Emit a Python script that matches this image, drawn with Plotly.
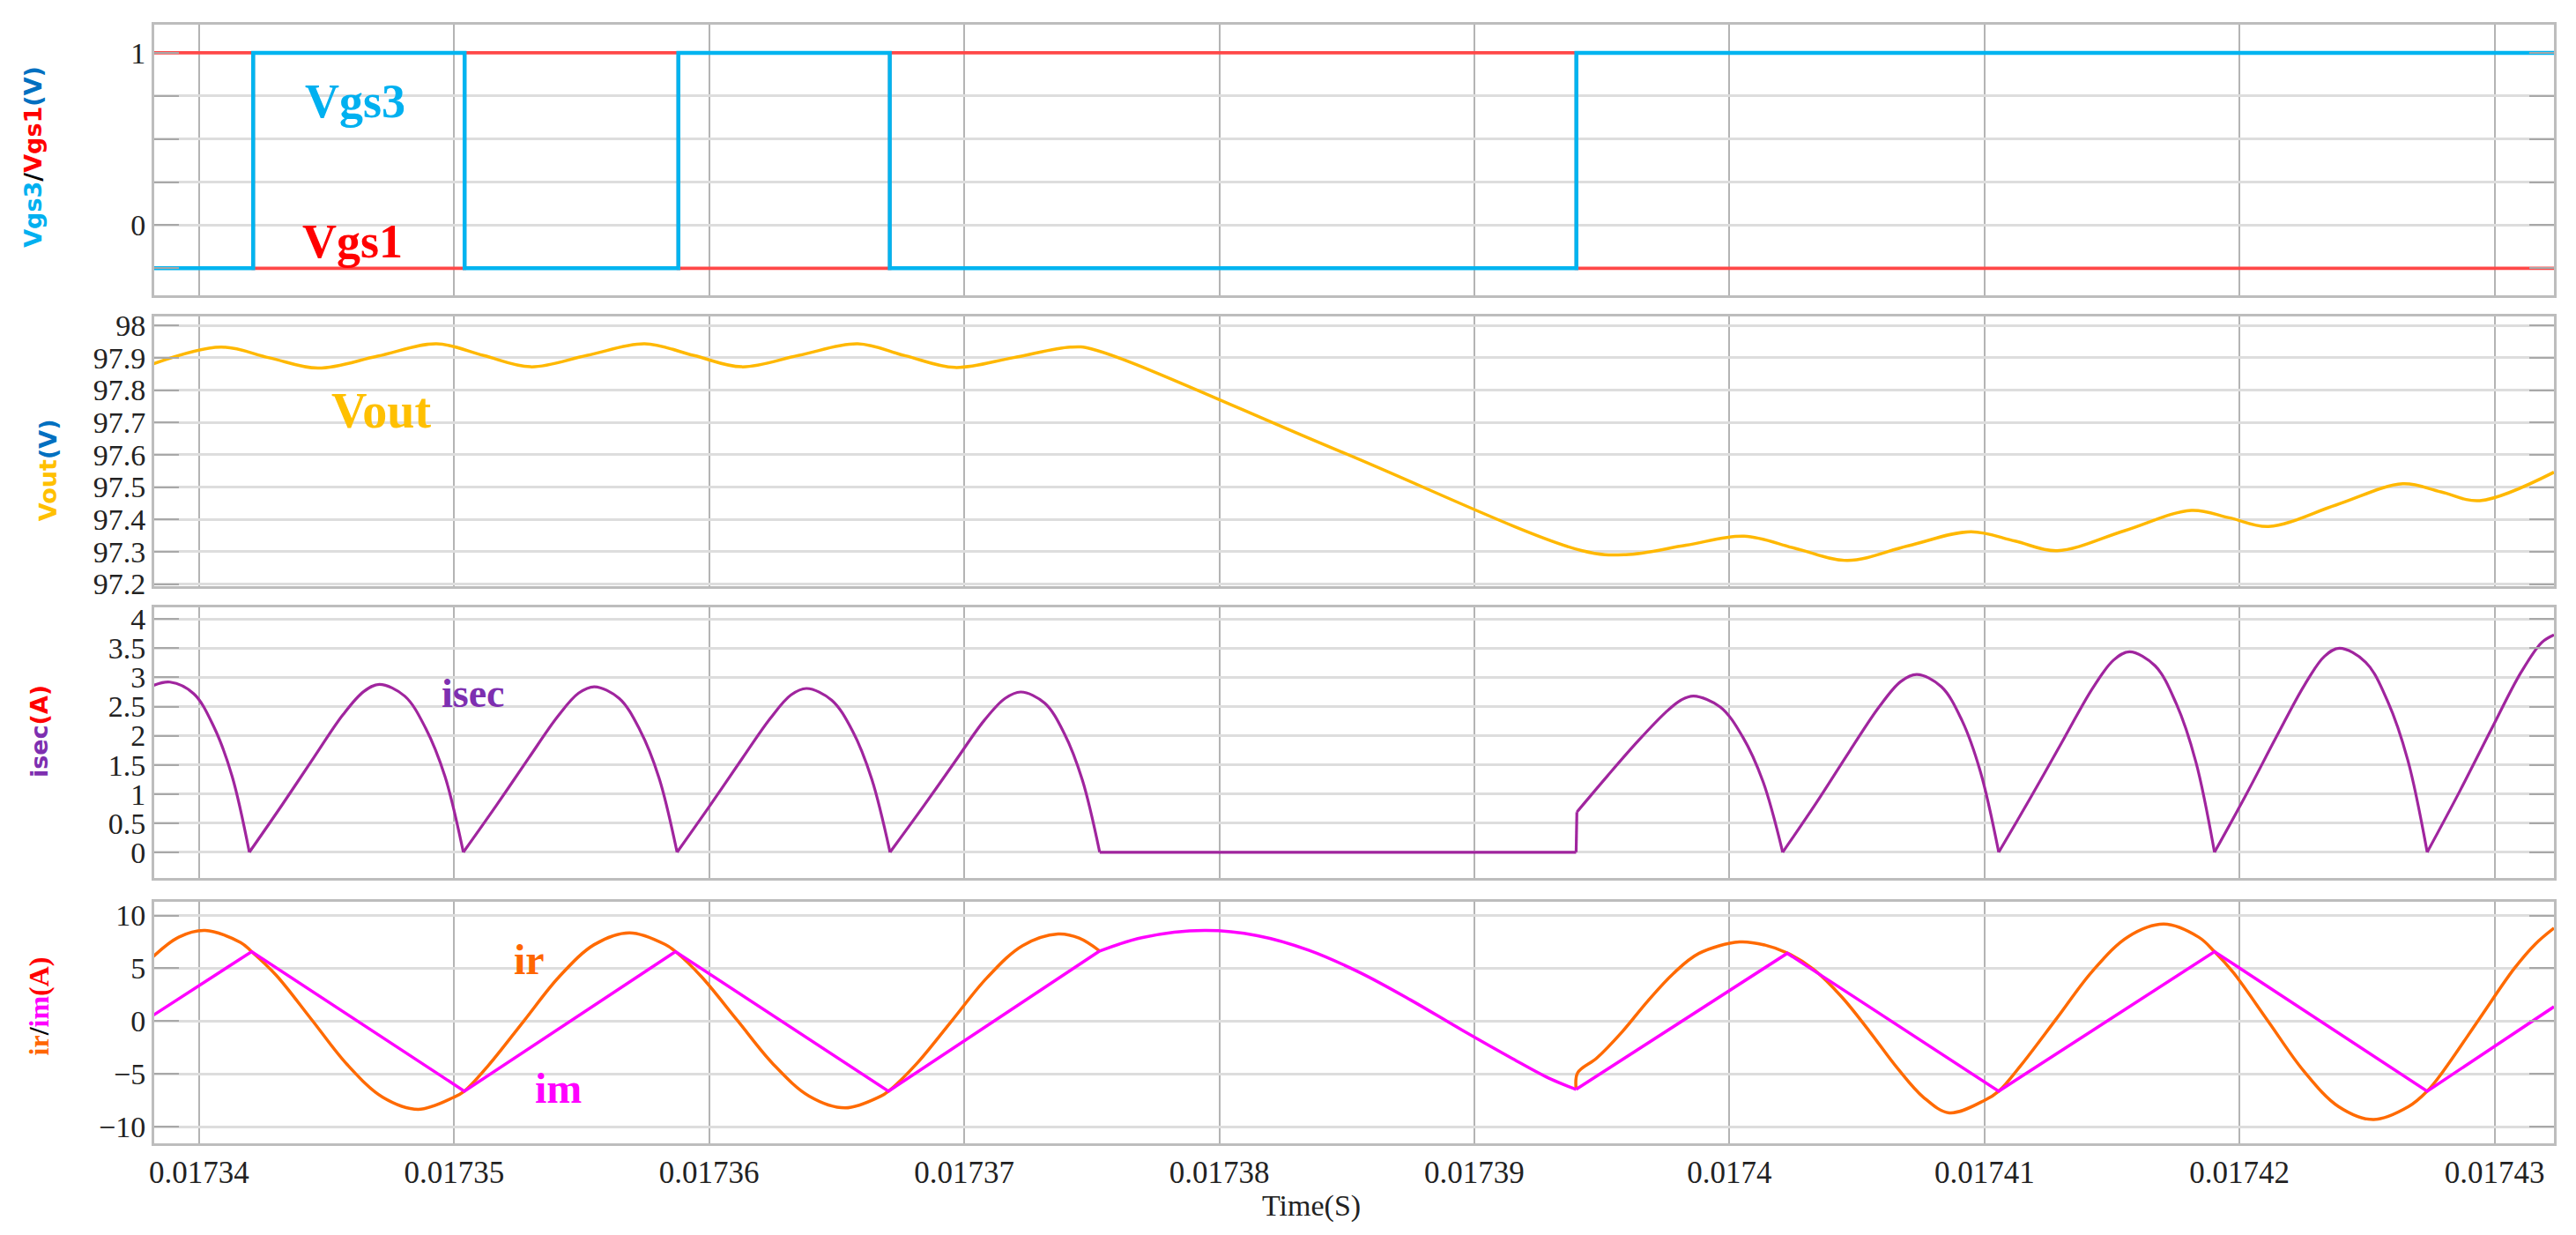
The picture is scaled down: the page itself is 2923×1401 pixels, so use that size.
import plotly.graph_objects as go

# ---------------- data (time in seconds) ----------------
t_vgs = [0.01733819, 0.01734212, 0.01735041, 0.01735879, 0.01736708, 0.01739400, 0.01743233]
vgs1 = [1, -0.25, 1, -0.25, 1, -0.25, -0.25]
vgs3 = [-0.25, 1, -0.25, 1, -0.25, 1, 1]

t_vout = [0.01733819, 0.01734085, 0.01734275, 0.01734466, 0.01734700, 0.01734931, 0.01735115,
          0.01735300, 0.01735520, 0.01735747, 0.01735940, 0.01736128, 0.01736350, 0.01736582,
          0.01736770, 0.01736963, 0.01737190, 0.01737416, 0.01737501, 0.01738460, 0.01739423,
          0.01739593, 0.01739830, 0.01740058, 0.01740260, 0.01740463, 0.01740700, 0.01740947,
          0.01741120, 0.01741285, 0.01741550, 0.01741811, 0.01741960, 0.01742114, 0.01742380,
          0.01742640, 0.01742790, 0.01742942, 0.01743233]
vout = [97.881, 97.933, 97.900, 97.868, 97.905, 97.943, 97.907,
        97.872, 97.907, 97.943, 97.907, 97.872, 97.907, 97.943,
        97.906, 97.870, 97.900, 97.933, 97.927, 97.615, 97.303,
        97.291, 97.320, 97.348, 97.310, 97.273, 97.318, 97.362,
        97.333, 97.303, 97.365, 97.428, 97.405, 97.378, 97.445,
        97.510, 97.485, 97.458, 97.546]

t_isec = [0.01733819, 0.01733886, 0.01733979, 0.01734057, 0.01734129, 0.01734197, None,
          0.01734197, 0.01734325, 0.01734452, 0.01734564, 0.01734646, 0.01734707,
          0.01734806, 0.01734888, 0.01734964, 0.01735036, None,
          0.01735036, 0.01735165, 0.01735293, 0.01735406, 0.01735488, 0.01735550,
          0.01735647, 0.01735728, 0.01735803, 0.01735874, None,
          0.01735874, 0.01736001, 0.01736128, 0.01736240, 0.01736321, 0.01736382,
          0.01736480, 0.01736562, 0.01736637, 0.01736709, None,
          0.01736709, 0.01736837, 0.01736966, 0.01737078, 0.01737160, 0.01737222,
          0.01737315, 0.01737392, 0.01737463, 0.01737531, None,
          0.01737531, 0.01739399, None,
          0.01739399, 0.01739402, None,
          0.01739402, 0.01739520, 0.01739640, 0.01739750, 0.01739810, 0.01739860,
          0.01739965, 0.01740052, 0.01740132, 0.01740209, None,
          0.01740209, 0.01740341, 0.01740472, 0.01740588, 0.01740672, 0.01740735,
          0.01740831, 0.01740912, 0.01740985, 0.01741056, None,
          0.01741056, 0.01741184, 0.01741313, 0.01741425, 0.01741507, 0.01741569,
          0.01741669, 0.01741752, 0.01741829, 0.01741902, None,
          0.01741902, 0.01742025, 0.01742147, 0.01742255, 0.01742333, 0.01742392,
          0.01742495, 0.01742581, 0.01742660, 0.01742736, None,
          0.01742736, 0.01742864, 0.01742991, 0.01743103, 0.01743185, 0.01743233]
isec = [2.86, 2.92, 2.72, 2.16, 1.31, 0, None,
        0, 0.81, 1.64, 2.36, 2.76, 2.88, 2.68, 2.13, 1.30, 0, None,
        0, 0.80, 1.62, 2.33, 2.73, 2.84, 2.64, 2.10, 1.28, 0, None,
        0, 0.79, 1.60, 2.30, 2.70, 2.81, 2.61, 2.08, 1.26, 0, None,
        0, 0.77, 1.57, 2.26, 2.64, 2.75, 2.56, 2.04, 1.24, 0, None,
        0, 0, None,
        0, 0.69, None,
        0.69, 1.30, 1.90, 2.40, 2.61, 2.68, 2.49, 1.98, 1.21, 0, None,
        0, 0.85, 1.74, 2.50, 2.93, 3.05, 2.84, 2.26, 1.37, 0, None,
        0, 0.96, 1.96, 2.82, 3.30, 3.44, 3.20, 2.55, 1.55, 0, None,
        0, 0.98, 2.00, 2.87, 3.36, 3.50, 3.26, 2.59, 1.58, 0, None,
        0, 1.05, 2.14, 3.08, 3.60, 3.73]

t_ir = [0.01733819, 0.01733920, 0.01734024, 0.01734163, 0.01734206, 0.01734302, 0.01734442,
        0.01734581, 0.01734720, 0.01734859, 0.01734997, 0.01735040, 0.01735135, 0.01735273,
        0.01735411, 0.01735549, 0.01735687, 0.01735828, 0.01735868, 0.01735969, 0.01736110,
        0.01736251, 0.01736392, 0.01736533, 0.01736672, 0.01736703, 0.01736811, 0.01736951,
        0.01737090, 0.01737229, 0.01737368, 0.01737450, 0.01737531, None,
        0.01739399, 0.01739405, 0.01739480, 0.01739580, 0.01739680, 0.01739780, 0.01739880,
        0.01740040, 0.01740140, 0.01740227, 0.01740330, 0.01740440, 0.01740550, 0.01740660,
        0.01740760, 0.01740862, 0.01741002, 0.01741056, 0.01741142, 0.01741283, 0.01741423,
        0.01741563, 0.01741703, 0.01741840, 0.01741902, 0.01741977, 0.01742114, 0.01742251,
        0.01742388, 0.01742525, 0.01742663, 0.01742736, 0.01742801, 0.01742940, 0.01743078,
        0.01743160, 0.01743233]
ir = [6.08, 7.95, 8.58, 7.44, 6.58, 4.35, 0.11,
      -4.13, -7.22, -8.36, -7.24, -6.64, -4.18, 0.00,
      4.18, 7.24, 8.36, 7.25, 6.58, 4.22, 0.07,
      -4.08, -7.11, -8.22, -7.12, -6.64, -4.10, 0.02,
      4.13, 7.15, 8.25, 7.86, 6.64, None,
      -6.47, -4.90, -3.50, -1.00, 1.90, 4.50, 6.40,
      7.50, 7.20, 6.45, 4.90, 2.30, -1.00, -4.50,
      -7.20, -8.69, -7.49, -6.64, -4.22, 0.25, 4.72,
      7.99, 9.19, 7.95, 6.58, 4.56, -0.07, -4.70,
      -8.09, -9.33, -8.10, -6.64, -4.67, 0.20, 5.00,
      7.30, 8.81]

t_im_tri = [0.01733819, 0.01734206, 0.01735040, 0.01735868, 0.01736703, 0.01737531, None,
            0.01739399, 0.01740227, 0.01741056, 0.01741902, 0.01742736, 0.01743233]
im_tri = [0.53, 6.58, -6.64, 6.58, -6.64, 6.64, None,
          -6.47, 6.42, -6.64, 6.58, -6.64, 1.36]

t_im_arc = [0.01737531, 0.01737700, 0.01737942, 0.01738150, 0.01738350, 0.01738550,
            0.01738750, 0.01738950, 0.01739150, 0.01739300, 0.01739399]
im_arc = [6.64, 7.92, 8.58, 8.09, 6.72, 4.61, 2.00, -0.83, -3.56, -5.50, -6.47]

x_ticks = [0.01734, 0.01735, 0.01736, 0.01737, 0.01738, 0.01739, 0.01740, 0.01741, 0.01742, 0.01743]
x_labels = ["0.01734", "0.01735", "0.01736", "0.01737", "0.01738", "0.01739", "0.0174",
            "0.01741", "0.01742", "0.01743"]
y1_ticks = [-0.25, 0, 0.25, 0.5, 0.75, 1]
y1_labels = ["", "0", "", "", "", "1"]
y2_ticks = [97.2, 97.3, 97.4, 97.5, 97.6, 97.7, 97.8, 97.9, 98]
y2_labels = ["97.2", "97.3", "97.4", "97.5", "97.6", "97.7", "97.8", "97.9", "98"]
y3_ticks = [0, 0.5, 1, 1.5, 2, 2.5, 3, 3.5, 4]
y3_labels = ["0", "0.5", "1", "1.5", "2", "2.5", "3", "3.5", "4"]
y4_ticks = [-10, -5, 0, 5, 10]
y4_labels = ["\u221210", "\u22125", "0", "5", "10"]

# ---------------- figure ----------------
fig = go.Figure()

fig.add_trace(go.Scatter(x=t_vgs, y=vgs1, mode="lines", line=dict(color="#FF4848", width=3.8, shape="hv"),
                         xaxis="x", yaxis="y"))
fig.add_trace(go.Scatter(x=t_vgs, y=vgs3, mode="lines", line=dict(color="#00B4F0", width=4.5, shape="hv"),
                         xaxis="x", yaxis="y"))
fig.add_trace(go.Scatter(x=t_vout, y=vout, mode="lines", line=dict(color="#FFB800", width=3.5, shape="spline"),
                         xaxis="x2", yaxis="y2"))
fig.add_trace(go.Scatter(x=t_isec, y=isec, mode="lines", connectgaps=False,
                         line=dict(color="#A0259E", width=3.2, shape="spline"),
                         xaxis="x3", yaxis="y3"))
fig.add_trace(go.Scatter(x=t_ir, y=ir, mode="lines", connectgaps=False,
                         line=dict(color="#FF6A00", width=3.5, shape="spline"),
                         xaxis="x4", yaxis="y4"))
fig.add_trace(go.Scatter(x=t_im_tri, y=im_tri, mode="lines", connectgaps=False,
                         line=dict(color="#FF00FF", width=3.5),
                         xaxis="x4", yaxis="y4"))
fig.add_trace(go.Scatter(x=t_im_arc, y=im_arc, mode="lines",
                         line=dict(color="#FF00FF", width=3.5, shape="spline"),
                         xaxis="x4", yaxis="y4"))

SERIF = "Liberation Serif, Times New Roman, serif"
YTICKFONT = dict(family=SERIF, size=34, color="#222222")
XTICKFONT = dict(family=SERIF, size=35, color="#222222")

xcommon = dict(range=[0.01733824, 0.01743233], tickvals=x_ticks, ticktext=x_labels,
               showgrid=True, gridcolor="#B4B4B4", gridwidth=2, zeroline=False,
               showline=True, linecolor="#BDBDBD", linewidth=3, mirror=True, ticks="",
               tickfont=XTICKFONT)

ycommon = dict(showgrid=True, gridcolor="#DDDDDD", gridwidth=3, zeroline=False,
               showline=True, linecolor="#BDBDBD", linewidth=3, mirror="ticks",
               ticks="inside", ticklen=28, tickwidth=2, tickcolor="#A8A8A8",
               tickfont=YTICKFONT)

# page body has an 8px margin: figure is 16px smaller and margins shifted by 8px
layout = dict(
    width=2907, height=1385,
    margin=dict(l=167, r=17, t=17, b=96),
    paper_bgcolor="white", plot_bgcolor="white",
    showlegend=False,
    xaxis=dict(xcommon, anchor="y", showticklabels=False),
    xaxis2=dict(xcommon, anchor="y2", showticklabels=False, matches="x"),
    xaxis3=dict(xcommon, anchor="y3", showticklabels=False, matches="x"),
    xaxis4=dict(xcommon, anchor="y4", showticklabels=True, matches="x"),
    yaxis=dict(ycommon, domain=[0.7579, 1.0], range=[-0.408, 1.163], tickvals=y1_ticks, ticktext=y1_labels, anchor="x"),
    yaxis2=dict(ycommon, domain=[0.4984, 0.7390], range=[97.1946, 98.0272], tickvals=y2_ticks, ticktext=y2_labels, anchor="x2"),
    yaxis3=dict(ycommon, domain=[0.2374, 0.4788], range=[-0.438, 4.196], tickvals=y3_ticks, ticktext=y3_labels, anchor="x3"),
    yaxis4=dict(ycommon, domain=[0.0, 0.2162], range=[-11.58, 11.33], tickvals=y4_ticks, ticktext=y4_labels, anchor="x4"),
)
fig.update_layout(**layout)

TITLEFONT = dict(family="DejaVu Sans, Verdana, sans-serif", size=27, color="#000000")

annotations = [
    # y-axis titles
    dict(text="<b><span style='color:#00B0F0'>Vgs3</span>/<span style='color:#FF0000'>Vgs1</span>"
              "<span style='color:#0070C0'>(V)</span></b>",
         x=-0.0503, y=0.882, textangle=-90, font=TITLEFONT),
    dict(text="<b><span style='color:#FFC000'>Vout</span><span style='color:#0070C0'>(V)</span></b>",
         x=-0.0444, y=0.602, textangle=-90, font=TITLEFONT),
    dict(text="<b><span style='color:#7E2FB0'>isec</span><span style='color:#FF0000'>(A)</span></b>",
         x=-0.0481, y=0.368, textangle=-90, font=TITLEFONT),
    dict(text="<b><span style='color:#FF6600'>ir</span>/<span style='color:#FF00FF'>im</span>"
              "<span style='color:#FF0000'>(A)</span></b>",
         x=-0.0481, y=0.1226, textangle=-90,
         font=dict(family=SERIF, size=32, color="#000000")),
    # in-plot labels
    dict(text="<b>Vgs3</b>", x=0.0837, y=0.9316, font=dict(family=SERIF, size=54, color="#00B0F0")),
    dict(text="<b>Vgs1</b>", x=0.0826, y=0.8058, font=dict(family=SERIF, size=54, color="#FF0000")),
    dict(text="<b>Vout</b>", x=0.0944, y=0.6549, font=dict(family=SERIF, size=56, color="#FFC000")),
    dict(text="<b>isec</b>", x=0.1329, y=0.4025, font=dict(family=SERIF, size=46, color="#7E2FB0")),
    dict(text="<b>ir</b>", x=0.1561, y=0.1643, font=dict(family=SERIF, size=48, color="#FF6600")),
    dict(text="<b>im</b>", x=0.1682, y=0.0495, font=dict(family=SERIF, size=48, color="#FF00FF")),
    # x-axis title
    dict(text="Time(S)", x=0.4822, y=-0.0558, font=dict(family=SERIF, size=34, color="#222222")),
]
for a in annotations:
    a.update(xref="paper", yref="paper", showarrow=False, xanchor="center", yanchor="middle")
fig.update_layout(annotations=annotations)

fig.write_html("out.html")
